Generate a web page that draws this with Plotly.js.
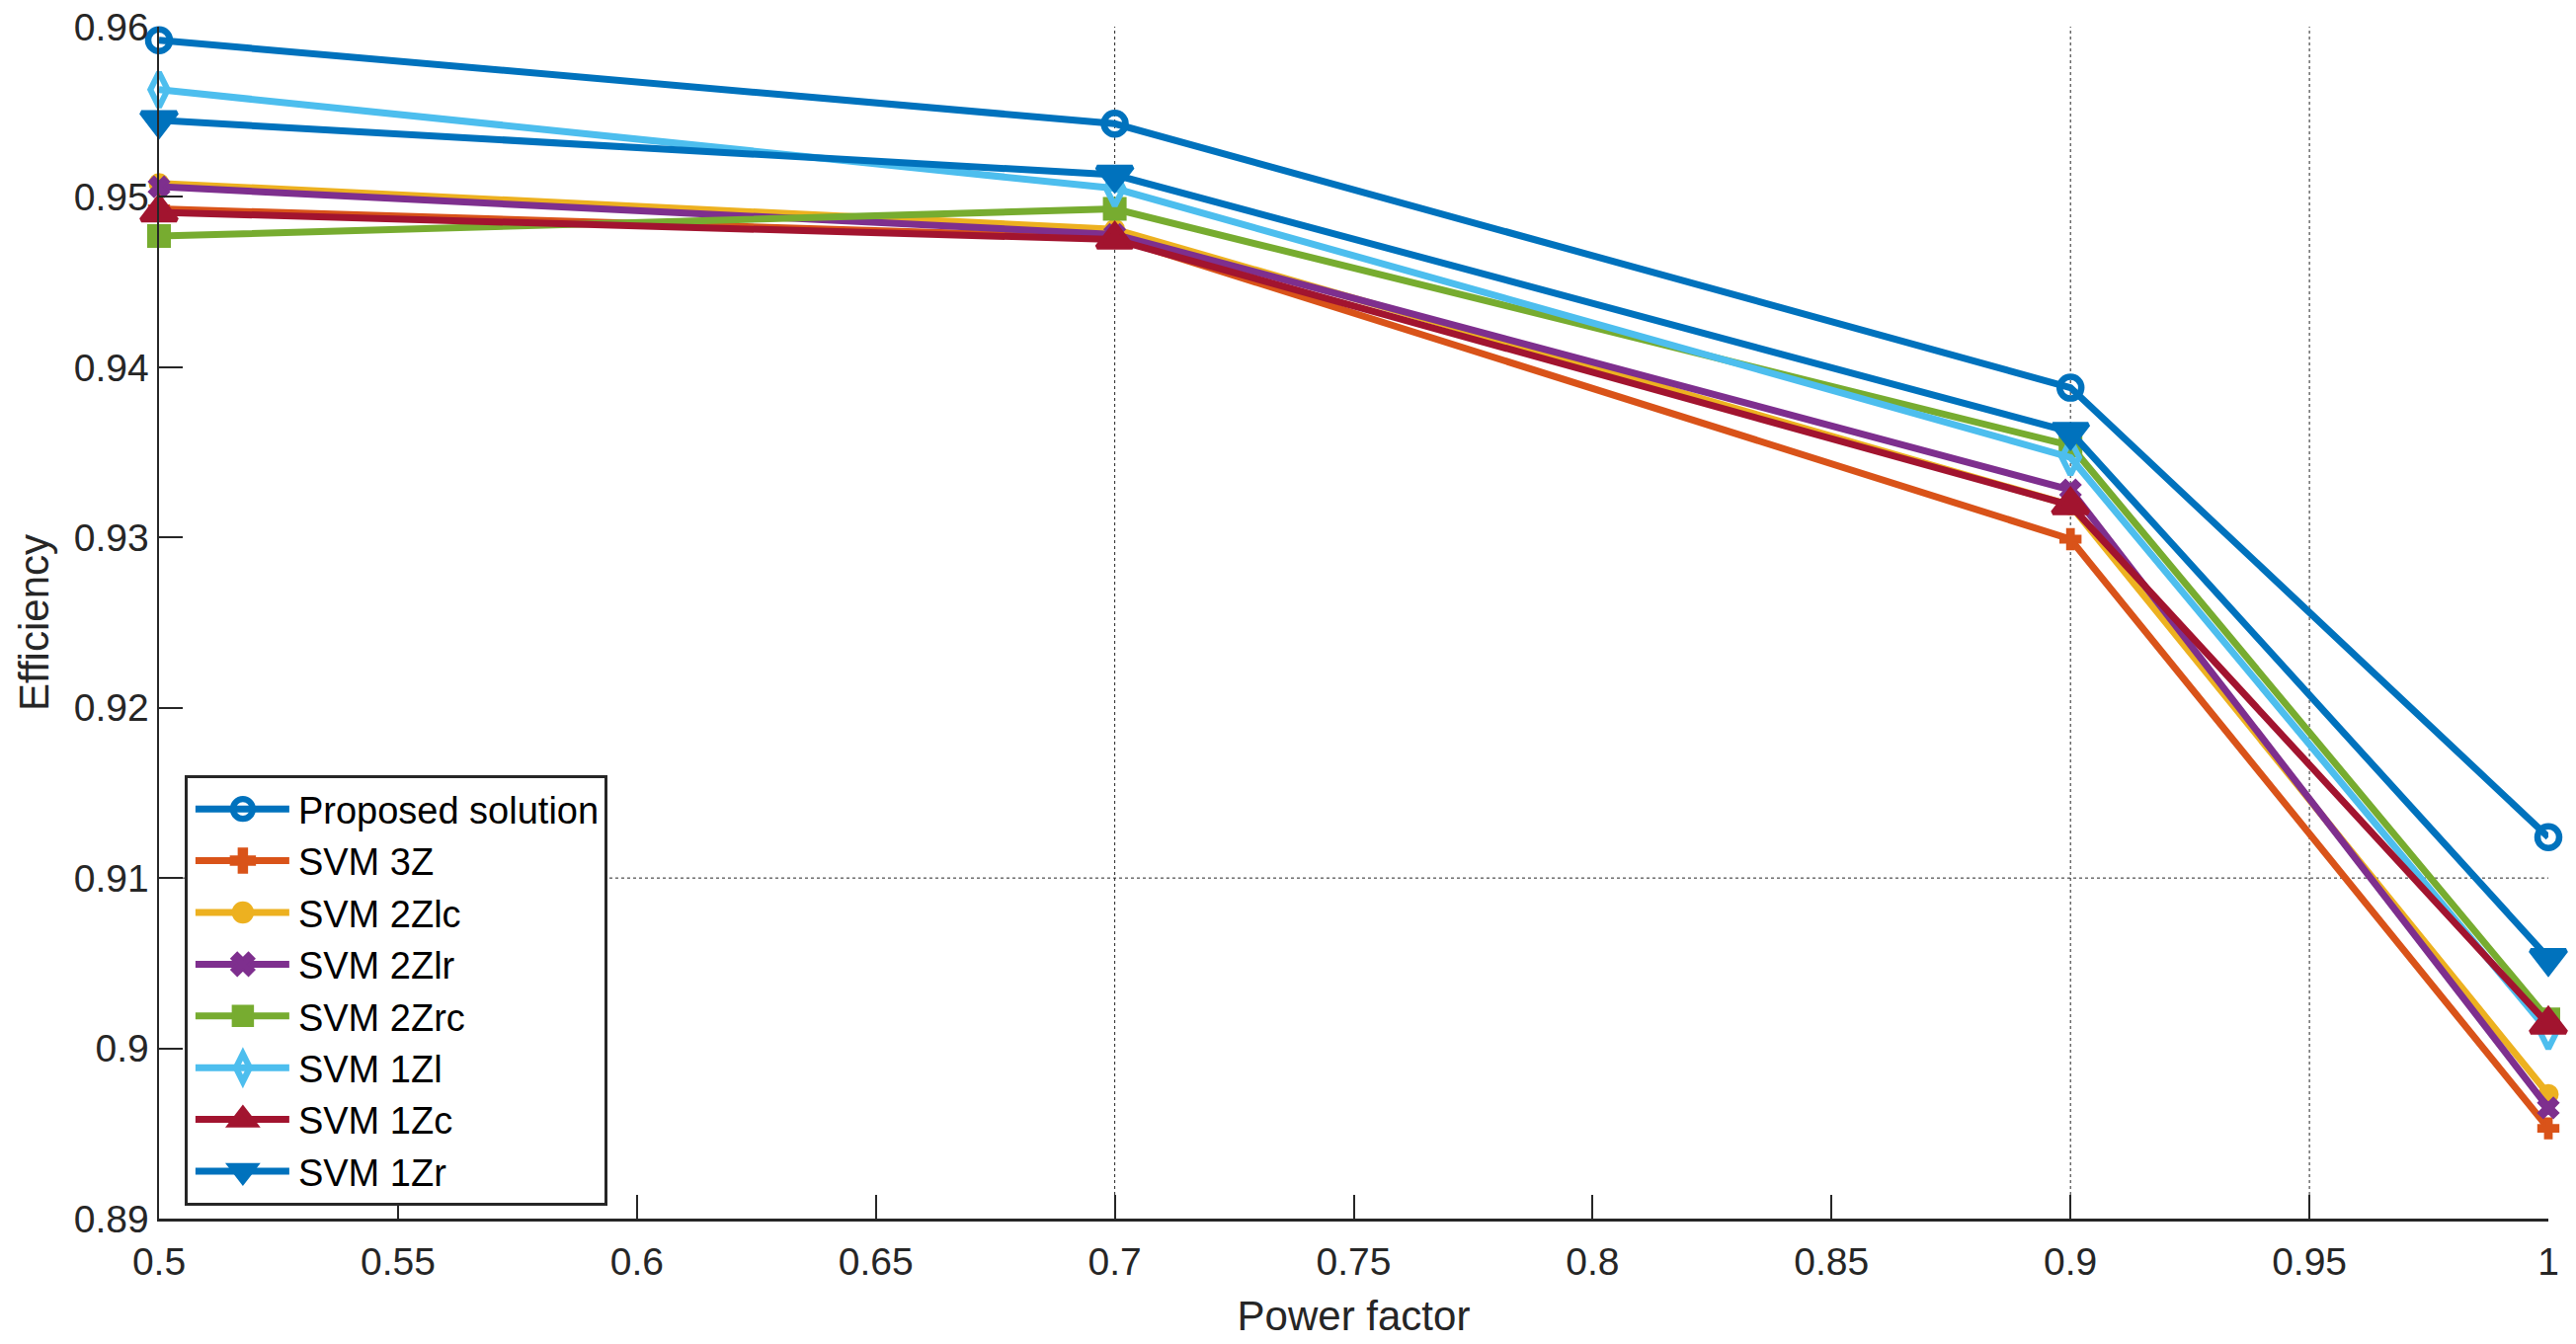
<!DOCTYPE html>
<html>
<head>
<meta charset="utf-8">
<script src="https://cdn.plot.ly/plotly-3.0.1.min.js"></script>
<style>
  html, body { margin: 0; padding: 0; background: #ffffff; }
  #chart { width: 2608px; height: 1361px; }
</style>
</head>
<body>
<div id="chart"></div>
<script>
// ---- Data ----
const powerFactor = [0.5, 0.7, 0.9, 1.0];

const seriesNames = [
  "Proposed solution", "SVM 3Z", "SVM 2Zlc", "SVM 2Zlr",
  "SVM 2Zrc", "SVM 1Zl", "SVM 1Zc", "SVM 1Zr"
];

const proposed = [0.9592, 0.9543, 0.9388, 0.9124];
const svm3Z    = [0.9493, 0.9476, 0.9299, 0.8953];
const svm2Zlc  = [0.9508, 0.9481, 0.9319, 0.8973];
const svm2Zlr  = [0.9506, 0.9478, 0.9328, 0.8965];
const svm2Zrc  = [0.9477, 0.9493, 0.9354, 0.9017];
const svm1Zl   = [0.9563, 0.9505, 0.9347, 0.9010];
const svm1Zc   = [0.9491, 0.9475, 0.9319, 0.9014];
const svm1Zr   = [0.9545, 0.9513, 0.9362, 0.9053];

const xTickVals = [0.5, 0.55, 0.6, 0.65, 0.7, 0.75, 0.8, 0.85, 0.9, 0.95, 1.0];
const xTickText = ["0.5", "0.55", "0.6", "0.65", "0.7", "0.75", "0.8", "0.85", "0.9", "0.95", "1"];
const yTickVals = [0.89, 0.90, 0.91, 0.92, 0.93, 0.94, 0.95, 0.96];
const yTickText = ["0.89", "0.9", "0.91", "0.92", "0.93", "0.94", "0.95", "0.96"];

const xGridLines = [0.7, 0.9, 0.95];
const yGridLines = [0.91];

// ---- Styles ----
const allSeries = [proposed, svm3Z, svm2Zlc, svm2Zlr, svm2Zrc, svm1Zl, svm1Zc, svm1Zr];
const colors = ["#0072BD", "#D95319", "#EDB120", "#7E2F8E", "#77AC30", "#4DBEEE", "#A2142F", "#0072BD"];
const symbols = ["circle-open", "cross", "circle", "x", "square", "diamond-tall-open", "triangle-up", "triangle-down"];
const sizes = [22, 17, 19, 18, 22, 25, 31, 31];
const mLineW = [6.5, 2, 2, 2, 2, 6, 5, 5];

const FONT = "'Liberation Sans', Arial, Helvetica, sans-serif";
const AX = "#262626";

const traces = allSeries.map((ys, i) => ({
  type: "scatter",
  mode: "lines+markers",
  name: seriesNames[i],
  x: powerFactor,
  y: ys,
  line: { color: colors[i], width: 7 },
  marker: {
    symbol: symbols[i],
    size: sizes[i],
    color: colors[i],
    line: { color: colors[i], width: mLineW[i] }
  },
  cliponaxis: false
}));

const shapes = [];
xGridLines.forEach(v => shapes.push({
  type: "line", layer: "below", xref: "x", yref: "paper",
  x0: v, x1: v, y0: 0, y1: 1,
  line: { color: AX, width: 1, dash: "dot" }
}));
yGridLines.forEach(v => shapes.push({
  type: "line", layer: "below", xref: "paper", yref: "y",
  x0: 0, x1: 1, y0: v, y1: v,
  line: { color: AX, width: 1, dash: "dot" }
}));

const layout = {
  width: 2608,
  height: 1361,
  margin: { l: 161, r: 28, t: 27, b: 127 },
  paper_bgcolor: "#ffffff",
  plot_bgcolor: "#ffffff",
  font: { family: FONT, color: AX, size: 38 },
  showlegend: true,
  xaxis: {
    range: [0.5, 1.0],
    tickmode: "array",
    tickvals: xTickVals,
    ticktext: xTickText,
    ticks: "inside",
    ticklen: 24,
    tickwidth: 2,
    tickcolor: AX,
    ticklabelstandoff: 8,
    showline: true,
    linecolor: AX,
    linewidth: 2.5,
    showgrid: false,
    zeroline: false,
    tickfont: { family: FONT, size: 39, color: AX },
    title: { text: "Power factor", font: { family: FONT, size: 42, color: AX }, standoff: 20 }
  },
  yaxis: {
    range: [0.89, 0.96],
    tickmode: "array",
    tickvals: yTickVals,
    ticktext: yTickText,
    ticks: "inside",
    ticklen: 24,
    tickwidth: 2,
    tickcolor: AX,
    showline: true,
    linecolor: AX,
    linewidth: 2.5,
    showgrid: false,
    zeroline: false,
    tickfont: { family: FONT, size: 39, color: AX },
    title: { text: "Efficiency", font: { family: FONT, size: 42, color: AX }, standoff: 12 }
  },
  legend: {
    x: 0.0107,
    y: 0.372,
    xanchor: "left",
    yanchor: "top",
    bgcolor: "#ffffff",
    bordercolor: AX,
    borderwidth: 3,
    font: { family: FONT, size: 38, color: "#000000" },
    itemwidth: 102,
    entrywidth: 325,
    tracegroupgap: 0
  },
  shapes: shapes
};

Plotly.newPlot("chart", traces, layout, { displayModeBar: false, staticPlot: true }).then(gd => {
  // Lengthen legend sample lines (MATLAB-style) and center markers on them
  gd.querySelectorAll(".legend .traces").forEach(t => {
    t.querySelectorAll(".legendlines path").forEach(p => p.setAttribute("d", "M8,0h95"));
    t.querySelectorAll(".legendpoints path").forEach(p => p.setAttribute("transform", "translate(56,0) scale(1.25)"));
  });
});
</script>
</body>
</html>
